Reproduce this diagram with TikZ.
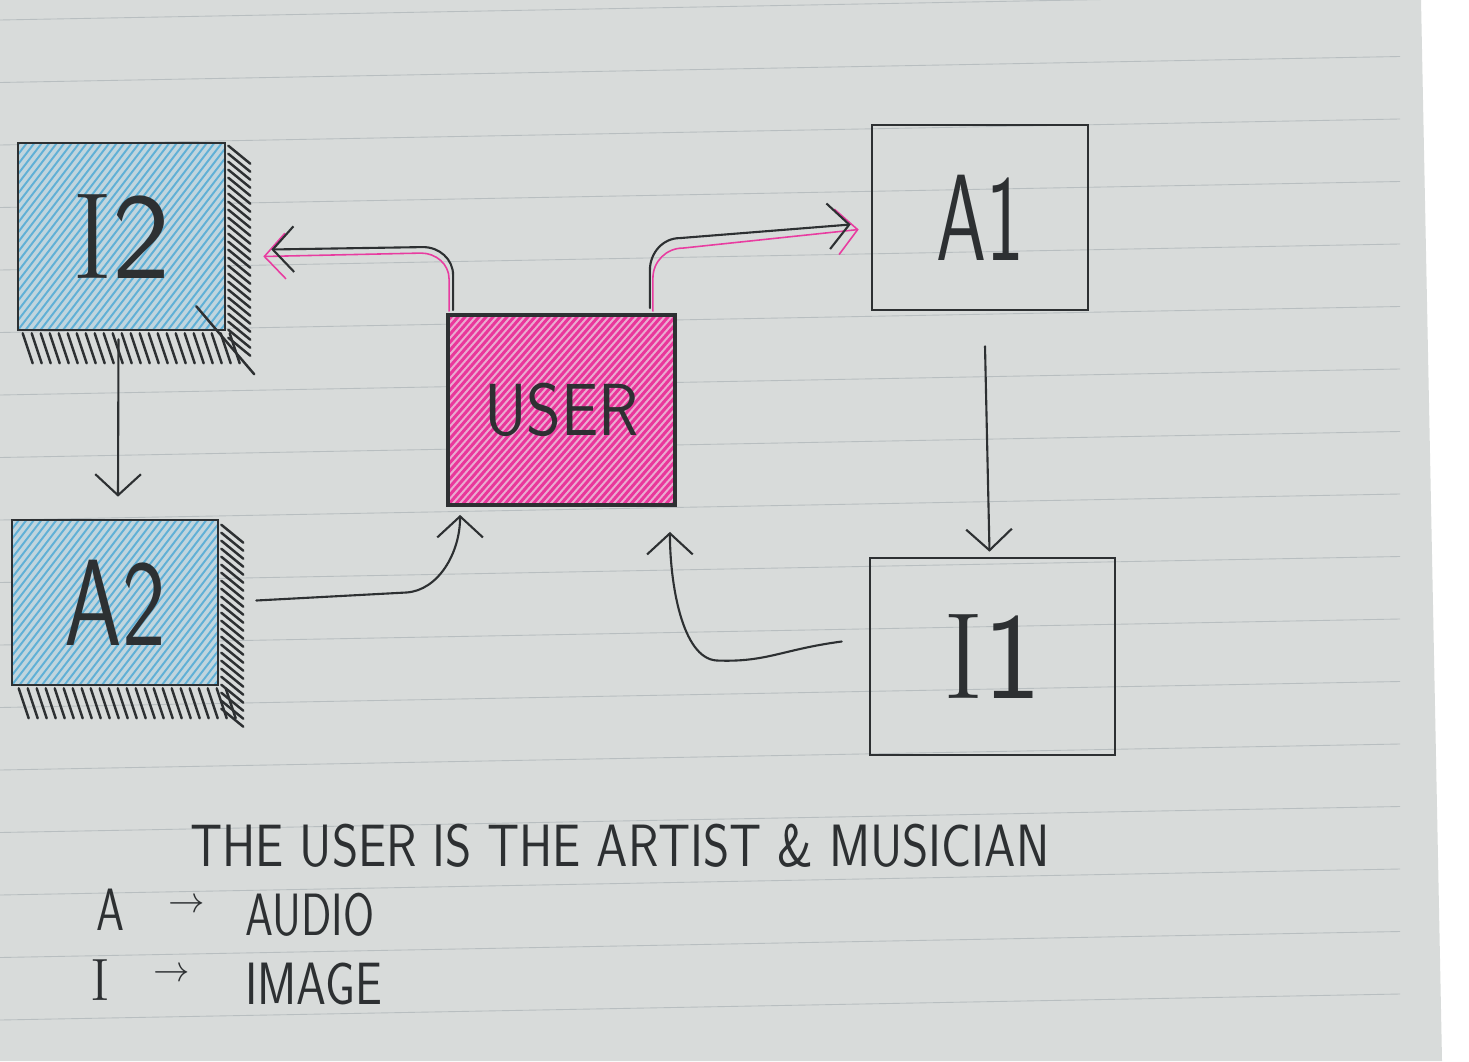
\documentclass[tikz,border=0pt]{standalone}
\usepackage{fontspec}
\usetikzlibrary{arrows.meta,calc}
\definecolor{paper}{RGB}{216,219,218}
\definecolor{rulec}{RGB}{184,190,192}
\definecolor{ink}{RGB}{45,48,50}
\definecolor{bluebase}{RGB}{192,213,222}
\definecolor{bluehatch}{RGB}{96,176,214}
\definecolor{pinkbase}{RGB}{234,170,208}
\definecolor{pinkhatch}{RGB}{233,55,155}
\definecolor{pinkline}{RGB}{232,60,160}
\begin{document}
\begin{tikzpicture}[x=0.02cm,y=-0.02cm,
  box/.style={draw=ink, line width=1.5pt, inner sep=0pt, text=ink,
    font=\sffamily\fontsize{70}{74}\selectfont},
  conn/.style={draw=ink, line width=1.2pt, line cap=round,
    -{Straight Barb[length=12pt,width=26pt]}},
  pconn/.style={draw=pinkline, line width=0.9pt, line cap=round,
    -{Straight Barb[length=12pt,width=26pt]}},
  shadowstroke/.style={draw=ink, line width=1.4pt, line cap=round},
  legend/.style={font=\sffamily\fontsize{34}{38}\selectfont, text=ink, inner sep=0pt},
  bluehatched/.style={fill=bluebase, path picture={
    \foreach \i in {-20,...,32}
      \draw[bluehatch, line width=1.1pt]
        ($(path picture bounding box.south west)+(\i*0.15cm,0)$) -- ++(3cm,3.9cm);}},
  pinkhatched/.style={fill=pinkbase, path picture={
    \foreach \i in {-24,...,36}
      \draw[pinkhatch, line width=1.7pt]
        ($(path picture bounding box.south west)+(\i*0.14cm,0)$) -- ++(3.4cm,3.9cm);}}
]
\useasboundingbox (0,0) rectangle (1469,1061);
\fill[white] (0,0) rectangle (1469,1061);
\fill[paper] (0,0) -- (1421,0) -- (1442,1061) -- (0,1061) -- cycle;
\foreach \k in {0,...,16}
  \draw[rulec, line width=0.5pt] (0,{20+62.5*\k}) -- (1400,{-6+62.5*\k});

% boxes
\node[box, bluehatched, minimum width=4.14cm, minimum height=3.74cm] (i2) at (121.5,236.5) {{\rmfamily I}2};
\node[box, bluehatched, minimum width=4.12cm, minimum height=3.3cm] (a2) at (115,602.5) {\scalebox{0.75}[1]{A2}};
\node[box, pinkhatched, line width=2.2pt, minimum width=4.54cm, minimum height=3.8cm,
  font=\sffamily\fontsize{42}{46}\selectfont] (user) at (561.5,410) {\scalebox{0.9}[1]{USER}\hspace{0.6cm}};
\node[box, minimum width=4.32cm, minimum height=3.7cm] (a1) at (980,217.5) {\scalebox{0.65}[1]{A1}};
\node[box, minimum width=4.9cm, minimum height=3.94cm] (i1) at (992.5,656.5) {{\rmfamily I}1};

% hand-drawn shadows of I2
\foreach \j in {4,12,...,196}
  \draw[shadowstroke] ($(i2.north east)+(2,\j)$) -- ++(22,18);
\foreach \j in {6,15,...,215}
  \draw[shadowstroke] ($(i2.south west)+(\j,2)$) -- ++(10,30);
\draw[shadowstroke] ($(i2.south east)+(-30,-25)$) -- ++(58,68);
% hand-drawn shadows of A2
\foreach \j in {6,14,...,190}
  \draw[shadowstroke] ($(a2.north east)+(2,\j)$) -- ++(22,18);
\foreach \j in {8,17,...,220}
  \draw[shadowstroke] ($(a2.south west)+(\j,2)$) -- ++(10,30);

% connectors
\draw[pconn] ($(user.north west)+(3,-2)$) -- ++(0,-32) to[out=90,in=0] ++(-28,-26) -- ($(i2.east)+(37,20)$);
\draw[conn] ($(user.north west)+(7,-3)$) -- ++(0,-35) to[out=90,in=0] ++(-30,-28) -- ($(i2.east)+(45,13)$);

\draw[pconn] ($(user.north east)+(-24,-2)$) -- ++(0,-33) to[out=90,in=180] ++(30,-30) -- ($(a1.west)+(-12,12)$);
\draw[conn] ($(user.north east)+(-27,-5)$) -- ++(0,-38) to[out=90,in=180] ++(30,-32) -- ($(a1.west)+(-20,7)$);

\draw[conn] ($(i2.south)+(-3,8)$) -- ($(a2.north)+(3,-22)$);
\draw[conn] ($(a2.east)+(37,-2)$) -- ++(150,-8) .. controls +(32,-2) and +(0,38) .. ($(user.south west)+(14,8)$);
\draw[conn] ($(a1.south)+(5,35)$) -- ($(i1.north)+(-3,-5)$);
\draw[conn] ($(i1.west)+(-27,-15)$) .. controls +(-60,8) and +(50,2) .. ++(-125,19)
  .. controls +(-35,-2) and +(0,50) .. ($(user.south east)+(-7,25)$);

% legend text
\node[legend] (note) at (620,846) {\scalebox{0.84}[1]{THE USER IS THE ARTIST \& MUSICIAN}};
\node[legend] (la) at (110,910) {\scalebox{0.75}[1]{A}};
\node[legend, font=\fontsize{22}{24}\selectfont] (laarrow) at (187,906) {$\rightarrow$};
\node[legend, anchor=west] (audio) at (245,915) {\scalebox{0.75}[1]{AUDIO}};
\node[legend, font=\rmfamily\fontsize{34}{38}\selectfont] (li) at (100,980) {I};
\node[legend, font=\fontsize{22}{24}\selectfont] (liarrow) at (172,975) {$\rightarrow$};
\node[legend, anchor=west] (image) at (245,984) {\scalebox{0.8}[1]{IMAGE}};
\end{tikzpicture}
\end{document}
